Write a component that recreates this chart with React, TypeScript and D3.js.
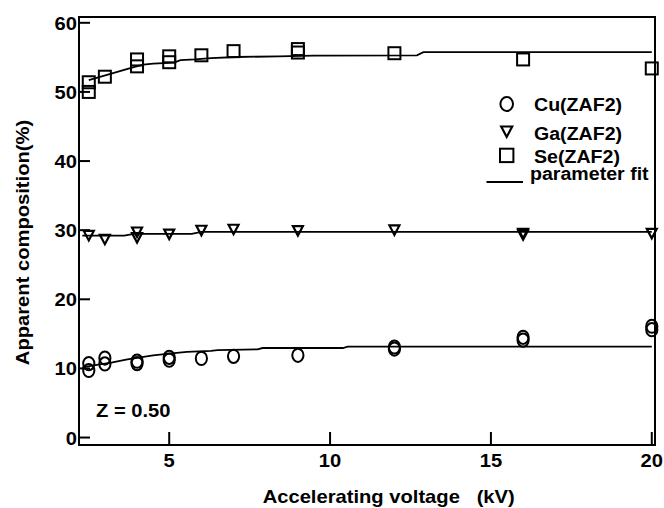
import React from "react";
import * as d3 from "d3";

const xTicks = [5, 10, 15, 20];
const yTicks = [0, 10, 20, 30, 40, 50, 60];

const cuX = [2.5, 2.5, 3, 3, 4, 4, 5, 5, 6, 7, 9, 12, 12, 16, 16, 20, 20];
const cuY = [10.7, 9.7, 11.5, 10.65, 11.05, 10.7, 11.6, 11.2, 11.45, 11.75, 11.9, 13.1, 12.8, 14.5, 14.1, 16.1, 15.6];

const gaX = [2.5, 3, 4, 4, 5, 6, 7, 9, 12, 16, 16, 20];
const gaY = [29.2, 28.65, 29.7, 28.9, 29.4, 29.95, 30.1, 29.9, 30.0, 29.5, 29.3, 29.5];

const seX = [2.5, 2.5, 3, 4, 4, 5, 5, 6, 7, 9, 9, 12, 16, 20];
const seY = [51.4, 50.0, 52.2, 54.7, 53.7, 55.15, 54.3, 55.3, 55.9, 56.2, 55.7, 55.6, 54.7, 53.4];

const seFitX = [2.5, 3.2, 3.6, 3.9, 4.2, 4.5, 5.15, 5.35, 5.8, 6.3, 7.1, 8.4, 9.5, 12.7, 12.9, 20];
const seFitY = [51.7, 52.65, 53.2, 53.6, 53.95, 54.1, 54.25, 54.6, 54.7, 54.9, 55.05, 55.15, 55.25, 55.3, 55.75, 55.75];

const gaFitX = [2.3, 3.6, 3.9, 5.7, 6.0, 20];
const gaFitY = [29.2, 29.2, 29.45, 29.45, 29.75, 29.75];

const cuFitX = [2.3, 2.75, 3.2, 3.7, 4.1, 4.5, 5.0, 5.55, 6.3, 6.5, 7.75, 7.9, 10.4, 10.55, 20];
const cuFitY = [10.15, 10.5, 10.85, 11.3, 11.6, 11.9, 12.15, 12.4, 12.55, 12.65, 12.75, 12.95, 12.95, 13.15, 13.15];

const legendLabels = ["Cu(ZAF2)", "Ga(ZAF2)", "Se(ZAF2)", "parameter fit"];

const FONT = "'Liberation Sans', Arial, Helvetica, sans-serif";
const SX = 1.12;

const left = 79, right = 655, top = 17, bottom = 445;

function T({ x, y, children, anchor = "start", size = 18, rotate = 0 }: any) {
  return (
    <text
      transform={`translate(${x},${y}) rotate(${rotate}) scale(${SX},1)`}
      textAnchor={anchor}
      fontFamily={FONT}
      fontWeight="bold"
      fontSize={size}
      fill="#000"
    >
      {children}
    </text>
  );
}

function Tri({ cx, cy, s = 10 }: any) {
  const h = s * 0.95;
  const p = `M${cx - s / 2},${cy - h / 2} L${cx + s / 2},${cy - h / 2} L${cx},${cy + h / 2} Z`;
  return <path d={p} fill="none" stroke="#000" strokeWidth={2.2} strokeLinejoin="miter" />;
}

export default function App() {
  const x = d3.scaleLinear().domain([2.196, 20.1]).range([left, right]);
  const y = d3.scaleLinear().domain([-1.08, 60.84]).range([bottom, top]);

  const line = d3
    .line<[number, number]>()
    .x((d) => x(d[0]))
    .y((d) => y(d[1]))
    .curve(d3.curveLinear);

  const fits = [
    seFitX.map((v, i) => [v, seFitY[i]] as [number, number]),
    gaFitX.map((v, i) => [v, gaFitY[i]] as [number, number]),
    cuFitX.map((v, i) => [v, cuFitY[i]] as [number, number]),
  ];

  const sq = 12;

  return (
    <svg
      width={664}
      height={508}
      style={{ position: "absolute", left: 0, top: 0, background: "#fff" }}
    >
      <rect x={0} y={0} width={664} height={508} fill="#fff" />
      {/* fit lines */}
      {fits.map((f, i) => (
        <path key={i} d={line(f) || ""} fill="none" stroke="#000" strokeWidth={1.8} />
      ))}
      {/* Se squares */}
      {seX.map((v, i) => (
        <rect
          key={"se" + i}
          x={x(v) - sq / 2}
          y={y(seY[i]) - sq / 2}
          width={sq}
          height={sq}
          fill="none"
          stroke="#000"
          strokeWidth={2}
        />
      ))}
      {/* Ga triangles */}
      {gaX.map((v, i) => (
        <Tri key={"ga" + i} cx={x(v)} cy={y(gaY[i])} s={10} />
      ))}
      {/* Cu circles */}
      {cuX.map((v, i) => (
        <ellipse
          key={"cu" + i}
          cx={x(v)}
          cy={y(cuY[i])}
          rx={5.6}
          ry={6.6}
          fill="none"
          stroke="#000"
          strokeWidth={2}
        />
      ))}
      {/* frame */}
      <rect
        x={left}
        y={top}
        width={right - left}
        height={bottom - top}
        fill="none"
        stroke="#000"
        strokeWidth={2}
      />
      {/* y ticks */}
      {yTicks.map((t) => (
        <g key={"yt" + t}>
          <line x1={left} x2={left + 11} y1={y(t)} y2={y(t)} stroke="#000" strokeWidth={2} />
          <T x={77} y={y(t) + 7} anchor="end">
            {t}
          </T>
        </g>
      ))}
      {/* x ticks */}
      {xTicks.map((t) => (
        <g key={"xt" + t}>
          <line x1={x(t)} x2={x(t)} y1={bottom} y2={bottom - 13} stroke="#000" strokeWidth={2} />
          <T x={x(t)} y={467} anchor="middle">
            {t}
          </T>
        </g>
      ))}
      {/* axis titles */}
      <T x={388.7} y={503} anchor="middle">
        {"Accelerating voltage\u00a0\u00a0\u00a0(kV)"}
      </T>
      <T x={29} y={242.5} anchor="middle" rotate={-90}>
        Apparent composition(%)
      </T>
      <T x={96} y={416.7} anchor="start">
        Z = 0.50
      </T>
      {/* legend */}
      <ellipse cx={506.7} cy={104} rx={6.3} ry={7} fill="none" stroke="#000" strokeWidth={2} />
      <T x={534} y={111} size={17.5}>{legendLabels[0]}</T>
      <Tri cx={506.7} cy={131.7} s={11} />
      <T x={534} y={139.5} size={17.5}>{legendLabels[1]}</T>
      <rect x={500} y={148.7} width={13.4} height={13.4} fill="none" stroke="#000" strokeWidth={2} />
      <T x={534} y={163.3} size={17.5}>{legendLabels[2]}</T>
      <line x1={486.5} x2={523} y1={182} y2={182} stroke="#000" strokeWidth={1.8} />
      <T x={530} y={179.5} size={17.5}>{legendLabels[3]}</T>
    </svg>
  );
}
